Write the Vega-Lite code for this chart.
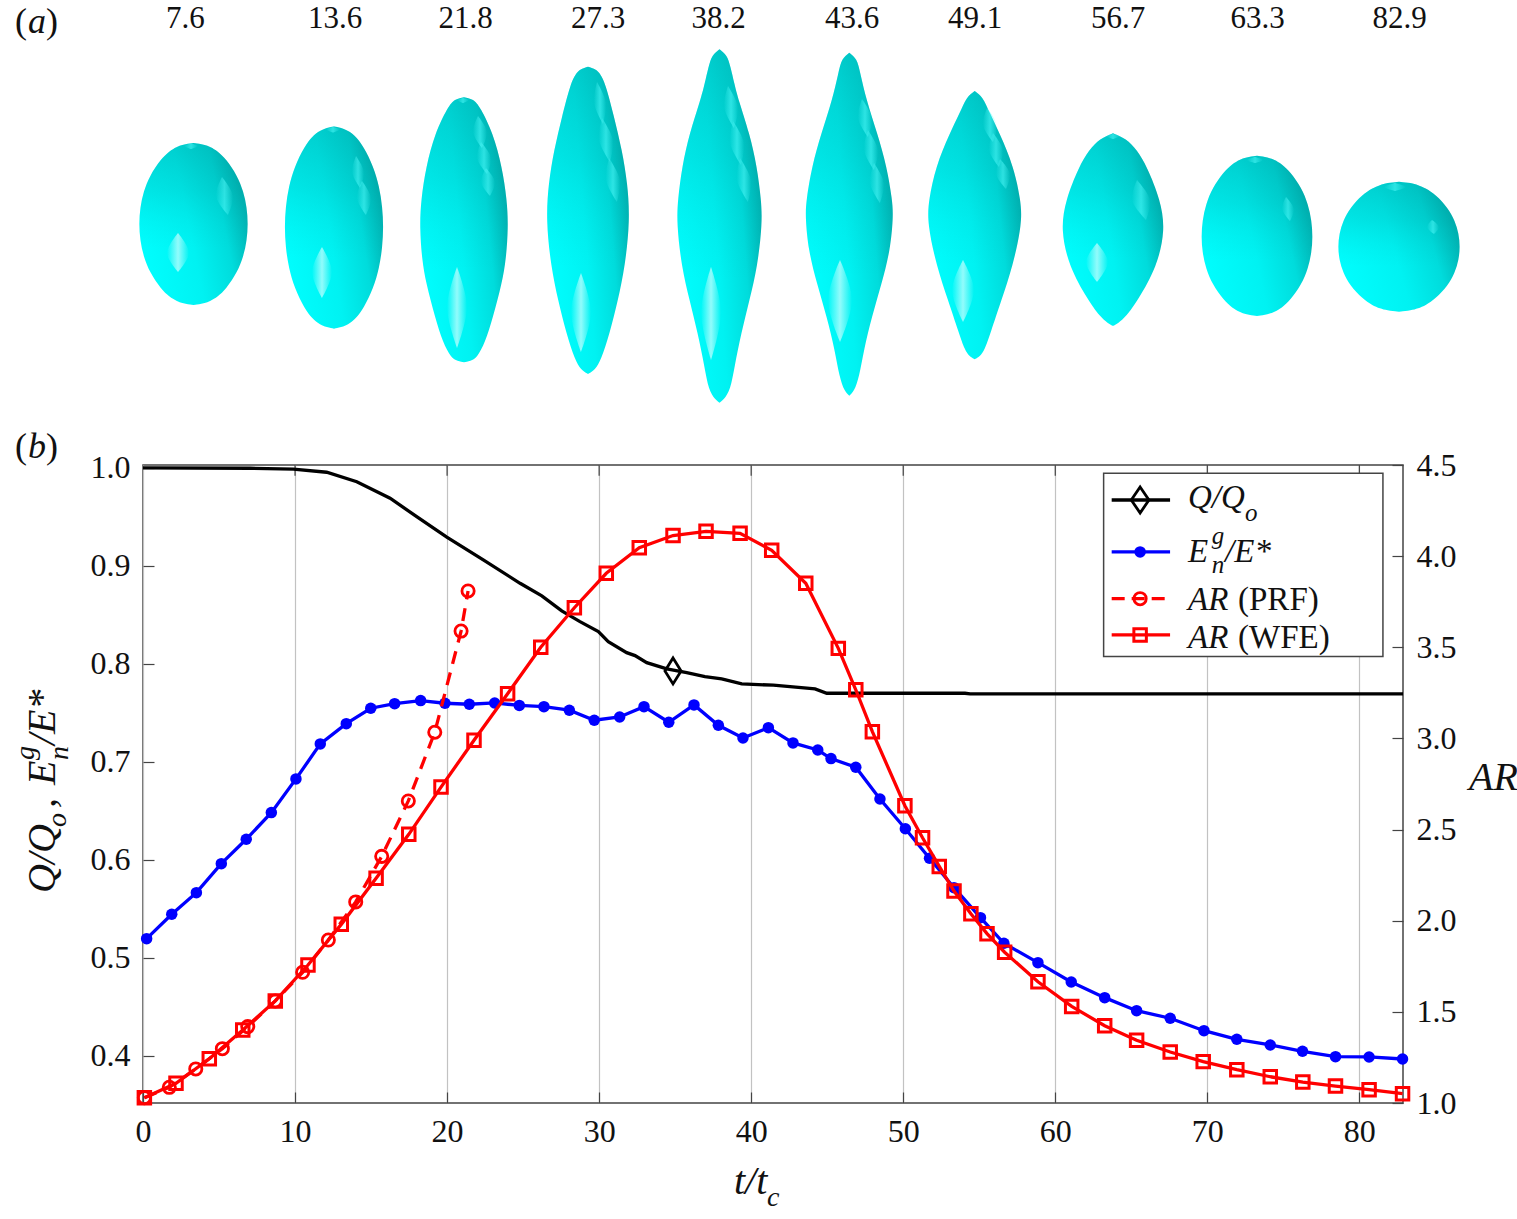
{
  "$schema": "https://vega.github.io/schema/vega-lite/v6.json",
  "description": "Droplet shapes at ten times above, and Q/Qo, En/E* and aspect ratio against t/tc below.",
  "autosize": {"type": "pad"},
  "padding": {"left": 11, "top": 0, "right": 0, "bottom": 0},
  "background": "white",
  "config": {
    "view": {"stroke": null},
    "text": {"font": "Liberation Serif", "color": "#111111"},
    "axis": {"labelFlush": false}
  },
  "datasets": {
    "drops": [
      {"d":"7.6","y":143,"l":193.5,"r":193.5},{"d":"7.6","y":144.6,"l":182.6,"r":204.4},{"d":"7.6","y":147,"l":176.6,"r":210.4},{"d":"7.6","y":151.1,"l":169.5,"r":217.5},{"d":"7.6","y":159.2,"l":160.8,"r":226.2},{"d":"7.6","y":175.4,"l":149.9,"r":237.1},{"d":"7.6","y":191.6,"l":143.5,"r":243.5},{"d":"7.6","y":207.8,"l":140.1,"r":246.9},{"d":"7.6","y":224,"l":139,"r":248},{"d":"7.6","y":240.2,"l":140.1,"r":246.9},{"d":"7.6","y":256.4,"l":143.5,"r":243.5},{"d":"7.6","y":272.6,"l":149.9,"r":237.1},{"d":"7.6","y":288.8,"l":160.8,"r":226.2},{"d":"7.6","y":296.9,"l":169.5,"r":217.5},{"d":"7.6","y":301,"l":176.6,"r":210.4},{"d":"7.6","y":303.4,"l":182.6,"r":204.4},{"d":"7.6","y":305,"l":193.5,"r":193.5},
      {"d":"13.6","y":126.5,"l":334,"r":334},{"d":"13.6","y":128.5,"l":324.1,"r":343.9},{"d":"13.6","y":131.5,"l":318.7,"r":349.3},{"d":"13.6","y":136.5,"l":312.3,"r":355.7},{"d":"13.6","y":146.6,"l":304.4,"r":363.6},{"d":"13.6","y":166.7,"l":294.5,"r":373.5},{"d":"13.6","y":186.8,"l":288.7,"r":379.3},{"d":"13.6","y":206.9,"l":285.6,"r":382.4},{"d":"13.6","y":227,"l":284.6,"r":383.4},{"d":"13.6","y":247.3,"l":285.6,"r":382.4},{"d":"13.6","y":267.7,"l":288.7,"r":379.3},{"d":"13.6","y":288,"l":294.5,"r":373.5},{"d":"13.6","y":308.4,"l":304.4,"r":363.6},{"d":"13.6","y":318.5,"l":312.3,"r":355.7},{"d":"13.6","y":323.6,"l":318.7,"r":349.3},{"d":"13.6","y":326.7,"l":324.1,"r":343.9},{"d":"13.6","y":328.7,"l":334,"r":334},
      {"d":"21.8","y":97.3,"l":464,"r":464},{"d":"21.8","y":99,"l":457,"r":471},{"d":"21.8","y":101,"l":453,"r":475},{"d":"21.8","y":107,"l":448,"r":480},{"d":"21.8","y":133,"l":435,"r":493},{"d":"21.8","y":167,"l":426,"r":502},{"d":"21.8","y":200,"l":421,"r":507},{"d":"21.8","y":227,"l":419.7,"r":508.3},{"d":"21.8","y":260,"l":422,"r":506},{"d":"21.8","y":283,"l":426,"r":502},{"d":"21.8","y":317,"l":435,"r":493},{"d":"21.8","y":343,"l":443,"r":485},{"d":"21.8","y":357,"l":451,"r":477},{"d":"21.8","y":360,"l":455,"r":473},{"d":"21.8","y":362.3,"l":464,"r":464},
      {"d":"27.3","y":66.7,"l":588,"r":588},{"d":"27.3","y":68.5,"l":582,"r":594},{"d":"27.3","y":71.7,"l":577,"r":599},{"d":"27.3","y":83.3,"l":570.5,"r":605.5},{"d":"27.3","y":116.7,"l":562,"r":614},{"d":"27.3","y":150,"l":554,"r":622},{"d":"27.3","y":183.3,"l":548.5,"r":627.5},{"d":"27.3","y":220,"l":546,"r":630},{"d":"27.3","y":266.7,"l":551,"r":625},{"d":"27.3","y":300,"l":558,"r":618},{"d":"27.3","y":333.3,"l":566.3,"r":609.7},{"d":"27.3","y":360,"l":575,"r":601},{"d":"27.3","y":370,"l":581,"r":595},{"d":"27.3","y":374,"l":588,"r":588},
      {"d":"38.2","y":49.3,"l":719.5,"r":719.5},{"d":"38.2","y":55,"l":712,"r":727},{"d":"38.2","y":66.7,"l":708.5,"r":730.5},{"d":"38.2","y":83.3,"l":704.8,"r":734.2},{"d":"38.2","y":100,"l":700.5,"r":738.5},{"d":"38.2","y":133.3,"l":689.5,"r":749.5},{"d":"38.2","y":166.7,"l":682,"r":757},{"d":"38.2","y":200,"l":677.8,"r":761.2},{"d":"38.2","y":223,"l":676.7,"r":762.3},{"d":"38.2","y":266.7,"l":681.5,"r":757.5},{"d":"38.2","y":300,"l":689.5,"r":749.5},{"d":"38.2","y":333.3,"l":697.8,"r":741.2},{"d":"38.2","y":366.7,"l":704.5,"r":734.5},{"d":"38.2","y":390,"l":708.5,"r":730.5},{"d":"38.2","y":400,"l":715.5,"r":723.5},{"d":"38.2","y":402.7,"l":719.5,"r":719.5},
      {"d":"43.6","y":52.7,"l":849.3,"r":849.3},{"d":"43.6","y":58.3,"l":841.8,"r":856.8},{"d":"43.6","y":73.3,"l":838.3,"r":860.3},{"d":"43.6","y":100,"l":832.3,"r":866.3},{"d":"43.6","y":133.3,"l":821.3,"r":877.3},{"d":"43.6","y":166.7,"l":811.8,"r":886.8},{"d":"43.6","y":200,"l":806.3,"r":892.3},{"d":"43.6","y":216.7,"l":805.3,"r":893.3},{"d":"43.6","y":250,"l":808.3,"r":890.3},{"d":"43.6","y":283.3,"l":816.8,"r":881.8},{"d":"43.6","y":316.7,"l":826.8,"r":871.8},{"d":"43.6","y":350,"l":834.8,"r":863.8},{"d":"43.6","y":376.7,"l":839.3,"r":859.3},{"d":"43.6","y":391.7,"l":844.6,"r":854},{"d":"43.6","y":395.7,"l":849.3,"r":849.3},
      {"d":"49.1","y":91,"l":974.7,"r":974.7},{"d":"49.1","y":96.7,"l":966.7,"r":982.7},{"d":"49.1","y":113.3,"l":959.7,"r":989.7},{"d":"49.1","y":133.3,"l":949.7,"r":999.7},{"d":"49.1","y":166.7,"l":935.7,"r":1013.7},{"d":"49.1","y":200,"l":928.7,"r":1020.7},{"d":"49.1","y":223,"l":927.2,"r":1022.2},{"d":"49.1","y":266.7,"l":936.7,"r":1012.7},{"d":"49.1","y":300,"l":948,"r":1001.4},{"d":"49.1","y":333.3,"l":959,"r":990.4},{"d":"49.1","y":350,"l":964.7,"r":984.7},{"d":"49.1","y":356.7,"l":969.7,"r":979.7},{"d":"49.1","y":359.3,"l":974.7,"r":974.7},
      {"d":"56.7","y":133.3,"l":1113,"r":1113},{"d":"56.7","y":138.3,"l":1100,"r":1126},{"d":"56.7","y":150,"l":1089,"r":1137},{"d":"56.7","y":166.7,"l":1079,"r":1147},{"d":"56.7","y":200,"l":1065.5,"r":1160.5},{"d":"56.7","y":230,"l":1060.7,"r":1165.3},{"d":"56.7","y":266.7,"l":1069,"r":1157},{"d":"56.7","y":300,"l":1088,"r":1138},{"d":"56.7","y":316.7,"l":1100,"r":1126},{"d":"56.7","y":323.3,"l":1108,"r":1118},{"d":"56.7","y":326,"l":1113,"r":1113},
      {"d":"63.3","y":155.7,"l":1257,"r":1257},{"d":"63.3","y":157.3,"l":1245.9,"r":1268.1},{"d":"63.3","y":159.7,"l":1239.7,"r":1274.3},{"d":"63.3","y":163.8,"l":1232.5,"r":1281.5},{"d":"63.3","y":172,"l":1223.6,"r":1290.4},{"d":"63.3","y":188.1,"l":1212.4,"r":1301.6},{"d":"63.3","y":204.3,"l":1205.9,"r":1308.1},{"d":"63.3","y":220.5,"l":1202.4,"r":1311.6},{"d":"63.3","y":236.7,"l":1201.3,"r":1312.7},{"d":"63.3","y":252.6,"l":1202.4,"r":1311.6},{"d":"63.3","y":268.4,"l":1205.9,"r":1308.1},{"d":"63.3","y":284.3,"l":1212.4,"r":1301.6},{"d":"63.3","y":300.1,"l":1223.6,"r":1290.4},{"d":"63.3","y":308.1,"l":1232.5,"r":1281.5},{"d":"63.3","y":312,"l":1239.7,"r":1274.3},{"d":"63.3","y":314.4,"l":1245.9,"r":1268.1},{"d":"63.3","y":316,"l":1257,"r":1257},
      {"d":"82.9","y":181.7,"l":1399,"r":1399},{"d":"82.9","y":183,"l":1386.8,"r":1411.2},{"d":"82.9","y":184.9,"l":1380.1,"r":1417.9},{"d":"82.9","y":188.2,"l":1372.2,"r":1425.8},{"d":"82.9","y":194.7,"l":1362.4,"r":1435.6},{"d":"82.9","y":207.7,"l":1350.2,"r":1447.8},{"d":"82.9","y":220.7,"l":1343.1,"r":1454.9},{"d":"82.9","y":233.7,"l":1339.2,"r":1458.8},{"d":"82.9","y":246.7,"l":1338,"r":1460},{"d":"82.9","y":259.7,"l":1339.2,"r":1458.8},{"d":"82.9","y":272.7,"l":1343.1,"r":1454.9},{"d":"82.9","y":285.7,"l":1350.2,"r":1447.8},{"d":"82.9","y":298.7,"l":1362.4,"r":1435.6},{"d":"82.9","y":305.2,"l":1372.2,"r":1425.8},{"d":"82.9","y":308.5,"l":1380.1,"r":1417.9},{"d":"82.9","y":310.4,"l":1386.8,"r":1411.2},{"d":"82.9","y":311.7,"l":1399,"r":1399}
    ],
    "glintLow": [
      {"d":"7.6","y":233,"l":178,"r":178},{"d":"7.6","y":253,"l":167,"r":189},{"d":"7.6","y":272,"l":178,"r":178},
      {"d":"13.6","y":247,"l":322,"r":322},{"d":"13.6","y":272,"l":312,"r":332},{"d":"13.6","y":298,"l":322,"r":322},
      {"d":"21.8","y":267,"l":457,"r":457},{"d":"21.8","y":307,"l":447,"r":467},{"d":"21.8","y":348,"l":457,"r":457},
      {"d":"27.3","y":273,"l":581,"r":581},{"d":"27.3","y":312,"l":571,"r":591},{"d":"27.3","y":352,"l":581,"r":581},
      {"d":"38.2","y":267,"l":711,"r":711},{"d":"38.2","y":312,"l":701,"r":721},{"d":"38.2","y":360,"l":711,"r":711},
      {"d":"43.6","y":260,"l":840,"r":840},{"d":"43.6","y":300,"l":828,"r":852},{"d":"43.6","y":342,"l":840,"r":840},
      {"d":"49.1","y":260,"l":963,"r":963},{"d":"49.1","y":290,"l":952,"r":974},{"d":"49.1","y":322,"l":963,"r":963},
      {"d":"56.7","y":243,"l":1097,"r":1097},{"d":"56.7","y":262,"l":1086,"r":1108},{"d":"56.7","y":282,"l":1097,"r":1097}
    ],
    "glintHigh": [
      {"d":"a1","y":177,"l":222,"r":222},{"d":"a1","y":196,"l":216,"r":233},{"d":"a1","y":215,"l":228,"r":228},
      {"d":"b1","y":156,"l":356,"r":356},{"d":"b1","y":172,"l":352,"r":364},{"d":"b1","y":188,"l":360,"r":360},
      {"d":"b2","y":181,"l":362,"r":362},{"d":"b2","y":198,"l":357,"r":371},{"d":"b2","y":215,"l":366,"r":366},
      {"d":"c1","y":116,"l":478,"r":478},{"d":"c1","y":132,"l":473,"r":487},{"d":"c1","y":148,"l":482,"r":482},
      {"d":"c2","y":142,"l":481,"r":481},{"d":"c2","y":158,"l":477,"r":491},{"d":"c2","y":174,"l":487,"r":487},
      {"d":"c3","y":168,"l":486,"r":486},{"d":"c3","y":182,"l":481,"r":495},{"d":"c3","y":196,"l":490,"r":490},
      {"d":"d1","y":82,"l":597,"r":597},{"d":"d1","y":103,"l":594,"r":606},{"d":"d1","y":124,"l":603,"r":603},
      {"d":"d2","y":118,"l":602,"r":602},{"d":"d2","y":140,"l":599,"r":613},{"d":"d2","y":162,"l":610,"r":610},
      {"d":"d3","y":158,"l":609,"r":609},{"d":"d3","y":180,"l":606,"r":620},{"d":"d3","y":202,"l":617,"r":617},
      {"d":"e1","y":86,"l":728,"r":728},{"d":"e1","y":107,"l":724,"r":738},{"d":"e1","y":128,"l":734,"r":734},
      {"d":"e2","y":121,"l":733,"r":733},{"d":"e2","y":143,"l":730,"r":744},{"d":"e2","y":165,"l":741,"r":741},
      {"d":"e3","y":158,"l":740,"r":740},{"d":"e3","y":180,"l":737,"r":751},{"d":"e3","y":202,"l":748,"r":748},
      {"d":"f1","y":99,"l":862,"r":862},{"d":"f1","y":118,"l":858,"r":872},{"d":"f1","y":137,"l":868,"r":868},
      {"d":"f2","y":130,"l":868,"r":868},{"d":"f2","y":150,"l":864,"r":878},{"d":"f2","y":170,"l":874,"r":874},
      {"d":"f3","y":163,"l":874,"r":874},{"d":"f3","y":183,"l":870,"r":884},{"d":"f3","y":203,"l":880,"r":880},
      {"d":"g1","y":108,"l":987,"r":987},{"d":"g1","y":125,"l":983,"r":997},{"d":"g1","y":142,"l":993,"r":993},
      {"d":"g2","y":133,"l":993,"r":993},{"d":"g2","y":150,"l":989,"r":1003},{"d":"g2","y":167,"l":999,"r":999},
      {"d":"g3","y":159,"l":1000,"r":1000},{"d":"g3","y":174,"l":996,"r":1010},{"d":"g3","y":189,"l":1006,"r":1006},
      {"d":"h1","y":180,"l":1137,"r":1137},{"d":"h1","y":200,"l":1132,"r":1150},{"d":"h1","y":220,"l":1146,"r":1146},
      {"d":"i1","y":197,"l":1286,"r":1286},{"d":"i1","y":209,"l":1282,"r":1294},{"d":"i1","y":221,"l":1290,"r":1290},
      {"d":"j1","y":220,"l":1432,"r":1432},{"d":"j1","y":227,"l":1427,"r":1439},{"d":"j1","y":234,"l":1434,"r":1434},
      {"d":"k1","y":143.5,"l":191,"r":191},{"d":"k1","y":146,"l":184,"r":198},{"d":"k1","y":149,"l":191,"r":191},
      {"d":"k2","y":127,"l":333,"r":333},{"d":"k2","y":129.5,"l":326,"r":340},{"d":"k2","y":132.5,"l":333,"r":333},
      {"d":"k3","y":98,"l":463,"r":463},{"d":"k3","y":100,"l":457,"r":469},{"d":"k3","y":103,"l":463,"r":463},
      {"d":"k8","y":134,"l":1113,"r":1113},{"d":"k8","y":136,"l":1106,"r":1120},{"d":"k8","y":139,"l":1113,"r":1113},
      {"d":"k9","y":157,"l":1255,"r":1255},{"d":"k9","y":160,"l":1247,"r":1263},{"d":"k9","y":163,"l":1255,"r":1255},
      {"d":"k10","y":183,"l":1395,"r":1395},{"d":"k10","y":187,"l":1384,"r":1406},{"d":"k10","y":191,"l":1395,"r":1395}
    ],
    "energy": [
      {"t":0.24,"v":0.5197},{"t":1.89,"v":0.5446},{"t":3.51,"v":0.5666},{"t":5.15,"v":0.5962},{"t":6.79,"v":0.6211},{"t":8.44,"v":0.6483},{"t":10.06,"v":0.6827},{"t":11.66,"v":0.7184},{"t":13.37,"v":0.7391},{"t":14.98,"v":0.7548},{"t":16.55,"v":0.7595},{"t":18.26,"v":0.7626},{"t":19.86,"v":0.7599},{"t":21.46,"v":0.7589},{"t":23.13,"v":0.7602},{"t":24.75,"v":0.7577},{"t":26.37,"v":0.7564},{"t":28.04,"v":0.7528},{"t":29.68,"v":0.7426},{"t":31.35,"v":0.7459},{"t":32.95,"v":0.7564},{"t":34.58,"v":0.7405},{"t":36.24,"v":0.7582},{"t":37.84,"v":0.7374},{"t":39.46,"v":0.7245},{"t":41.13,"v":0.735},{"t":42.75,"v":0.7194},{"t":44.38,"v":0.7122},{"t":45.25,"v":0.7034},{"t":46.88,"v":0.6946},{"t":48.47,"v":0.6622},{"t":50.14,"v":0.6319},{"t":51.73,"v":0.6017},{"t":53.34,"v":0.5717},{"t":55.08,"v":0.5411},{"t":56.62,"v":0.515},{"t":58.86,"v":0.4952},{"t":61.05,"v":0.4755},{"t":63.25,"v":0.4595},{"t":65.35,"v":0.4462},{"t":67.56,"v":0.4385},{"t":69.78,"v":0.4258},{"t":71.94,"v":0.417},{"t":74.14,"v":0.4112},{"t":76.26,"v":0.4048},{"t":78.43,"v":0.3993},{"t":80.64,"v":0.399},{"t":82.84,"v":0.3969}
    ],
    "charge": [
      {"t":0,"v":1.0},{"t":7.04,"v":0.9997},{"t":9.89,"v":0.9987},{"t":12.08,"v":0.9956},{"t":14.06,"v":0.986},{"t":16.25,"v":0.9691},{"t":18.0,"v":0.9503},{"t":19.98,"v":0.9293},{"t":22.38,"v":0.9061},{"t":24.8,"v":0.8823},{"t":26.23,"v":0.8694},{"t":27.54,"v":0.8541},{"t":28.74,"v":0.8432},{"t":29.95,"v":0.833},{"t":30.6,"v":0.8228},{"t":31.81,"v":0.8115},{"t":32.36,"v":0.8085},{"t":33.13,"v":0.8013},{"t":34.45,"v":0.7949},{"t":35.76,"v":0.7911},{"t":36.96,"v":0.787},{"t":38.06,"v":0.7847},{"t":39.38,"v":0.7796},{"t":41.46,"v":0.7783},{"t":44.2,"v":0.7745},{"t":44.97,"v":0.7701},{"t":49.79,"v":0.7701},{"t":54.06,"v":0.7701},{"t":54.4,"v":0.7694},{"t":82.87,"v":0.7694}
    ],
    "wfe": [
      {"t":0.09,"ar":1.029},{"t":2.17,"ar":1.108},{"t":4.36,"ar":1.243},{"t":6.56,"ar":1.4},{"t":8.7,"ar":1.56},{"t":10.85,"ar":1.757},{"t":13.04,"ar":1.98},{"t":15.33,"ar":2.233},{"t":17.48,"ar":2.474},{"t":19.6,"ar":2.733},{"t":21.77,"ar":2.99},{"t":23.98,"ar":3.245},{"t":26.16,"ar":3.5},{"t":28.37,"ar":3.717},{"t":30.47,"ar":3.906},{"t":32.64,"ar":4.046},{"t":34.86,"ar":4.113},{"t":37.03,"ar":4.136},{"t":39.27,"ar":4.125},{"t":41.35,"ar":4.032},{"t":43.59,"ar":3.851},{"t":45.73,"ar":3.494},{"t":46.88,"ar":3.267},{"t":47.97,"ar":3.037},{"t":50.11,"ar":2.631},{"t":51.27,"ar":2.455},{"t":52.37,"ar":2.298},{"t":53.34,"ar":2.163},{"t":54.45,"ar":2.038},{"t":55.51,"ar":1.929},{"t":56.67,"ar":1.827},{"t":58.86,"ar":1.665},{"t":61.08,"ar":1.53},{"t":63.25,"ar":1.424},{"t":65.35,"ar":1.344},{"t":67.56,"ar":1.28},{"t":69.73,"ar":1.227},{"t":71.94,"ar":1.183},{"t":74.14,"ar":1.144},{"t":76.28,"ar":1.115},{"t":78.43,"ar":1.093},{"t":80.64,"ar":1.073},{"t":82.84,"ar":1.051}
    ],
    "prf": [
      {"t":0.09,"ar":1.029},{"t":1.73,"ar":1.086},{"t":3.47,"ar":1.187},{"t":5.22,"ar":1.298},{"t":6.89,"ar":1.419},{"t":8.7,"ar":1.56},{"t":10.5,"ar":1.717},{"t":12.19,"ar":1.894},{"t":13.99,"ar":2.103},{"t":15.7,"ar":2.353},{"t":17.45,"ar":2.657},{"t":19.19,"ar":3.034},{"t":20.92,"ar":3.589},{"t":21.38,"ar":3.809}
    ]
  },
  "spacing": -18,
  "vconcat": [
    {
      "width": 1260,
      "height": 465,
      "encoding": {
        "x": {"field": "u", "type": "quantitative", "scale": {"domain": [143, 1403]}, "axis": null},
        "y": {"field": "y", "type": "quantitative", "scale": {"domain": [465, 0]}, "axis": null}
      },
      "layer": [
        {
          "data": {"name": "drops"},
          "mark": {
            "type": "area", "orient": "horizontal", "interpolate": "basis",
            "color": {"gradient": "linear", "x1": 0, "y1": 0.8, "x2": 1, "y2": 0.5, "stops": [
              {"offset": 0, "color": "#00ffff"},
              {"offset": 0.5, "color": "#00f2f2"},
              {"offset": 0.8, "color": "#00dcdc"},
              {"offset": 1, "color": "#00b4b4"}
            ]}
          },
          "encoding": {
            "x": {"field": "l"},
            "x2": {"field": "r"},
            "detail": {"field": "d"}
          }
        },
        {
          "data": {"name": "drops"},
          "mark": {
            "type": "area", "orient": "horizontal", "interpolate": "basis",
            "color": {"gradient": "linear", "x1": 0.5, "y1": 0, "x2": 0.5, "y2": 1, "stops": [
              {"offset": 0, "color": "rgba(0,140,140,0.35)"},
              {"offset": 0.3, "color": "rgba(0,150,150,0.2)"},
              {"offset": 0.5, "color": "rgba(0,170,170,0.08)"},
              {"offset": 0.65, "color": "rgba(0,180,180,0)"},
              {"offset": 1, "color": "rgba(0,180,180,0)"}
            ]}
          },
          "encoding": {
            "x": {"field": "l"},
            "x2": {"field": "r"},
            "detail": {"field": "d"}
          }
        },
        {
          "data": {"name": "glintHigh"},
          "mark": {
            "type": "area", "orient": "horizontal", "interpolate": "catmull-rom",
            "color": {"gradient": "linear", "x1": 0, "y1": 0.5, "x2": 1, "y2": 0.5, "stops": [
              {"offset": 0, "color": "rgba(90,255,255,0)"},
              {"offset": 0.5, "color": "rgba(90,255,255,0.5)"},
              {"offset": 1, "color": "rgba(90,255,255,0)"}
            ]}
          },
          "encoding": {
            "x": {"field": "l"},
            "x2": {"field": "r"},
            "detail": {"field": "d"}
          }
        },
        {
          "data": {"name": "glintLow"},
          "mark": {
            "type": "area", "orient": "horizontal", "interpolate": "catmull-rom",
            "color": {"gradient": "linear", "x1": 0, "y1": 0.5, "x2": 1, "y2": 0.5, "stops": [
              {"offset": 0, "color": "rgba(225,255,255,0)"},
              {"offset": 0.5, "color": "rgba(225,255,255,0.65)"},
              {"offset": 1, "color": "rgba(225,255,255,0)"}
            ]}
          },
          "encoding": {
            "x": {"field": "l"},
            "x2": {"field": "r"},
            "detail": {"field": "d"}
          }
        },
        {
          "data": {"values": [
            {"label":"7.6","u":185.3,"y":27.7},{"label":"13.6","u":335,"y":27.7},{"label":"21.8","u":465.7,"y":27.7},{"label":"27.3","u":598,"y":27.7},{"label":"38.2","u":718.7,"y":27.7},{"label":"43.6","u":852,"y":27.7},{"label":"49.1","u":975,"y":27.7},{"label":"56.7","u":1118,"y":27.7},{"label":"63.3","u":1257.5,"y":27.7},{"label":"82.9","u":1399.7,"y":27.7}
          ]},
          "mark": {"type": "text", "fontSize": 31, "align": "center", "baseline": "alphabetic"},
          "encoding": {"text": {"field": "label"}}
        },
        {
          "data": {"values": [
            {"label":"(","u":15,"y":33},{"label":")","u":46,"y":33},{"label":"(","u":15,"y":458},{"label":")","u":46,"y":458}
          ]},
          "mark": {"type": "text", "fontSize": 36, "align": "left", "baseline": "alphabetic"},
          "encoding": {"text": {"field": "label"}}
        },
        {
          "data": {"values": [{"label":"a","u":28,"y":33},{"label":"b","u":28,"y":458}]},
          "mark": {"type": "text", "fontSize": 36, "fontStyle": "italic", "align": "left", "baseline": "alphabetic"},
          "encoding": {"text": {"field": "label"}}
        }
      ]
    },
    {
      "width": 1260,
      "height": 638,
      "view": {"stroke": "#444444", "strokeWidth": 1.5},
      "encoding": {
        "x": {
          "field": "t", "type": "quantitative", "title": null,
          "scale": {"domain": [0, 82.87]},
          "axis": {"values": [0,10,20,30,40,50,60,70,80], "format": "d", "grid": true, "gridColor": "#c2c2c2", "gridWidth": 1.2, "domain": false, "tickColor": "#444444", "tickWidth": 1.2, "tickSize": -11, "labelFont": "Liberation Serif", "labelFontSize": 32, "labelColor": "#111111", "labelPadding": 24}
        }
      },
      "layer": [
        {
          "encoding": {
            "y": {
              "field": "v", "type": "quantitative", "title": null,
              "scale": {"domain": [0.352, 1.003]},
              "axis": {"values": [0.4,0.5,0.6,0.7,0.8,0.9,1.0], "format": ".1f", "grid": false, "domain": false, "tickColor": "#444444", "tickWidth": 1.2, "tickSize": -11, "labelFont": "Liberation Serif", "labelFontSize": 32, "labelColor": "#111111", "labelPadding": 24}
            }
          },
          "layer": [
            {
              "data": {"values": [
                {"t":10,"v":1.003,"v2":0.992},{"t":20,"v":1.003,"v2":0.992},{"t":30,"v":1.003,"v2":0.992},{"t":40,"v":1.003,"v2":0.992},{"t":50,"v":1.003,"v2":0.992},{"t":60,"v":1.003,"v2":0.992},{"t":70,"v":1.003,"v2":0.992},{"t":80,"v":1.003,"v2":0.992}
              ]},
              "mark": {"type": "rule", "color": "#444444", "strokeWidth": 1.2},
              "encoding": {"y2": {"field": "v2"}}
            },
            {
              "data": {"name": "charge"},
              "mark": {"type": "line", "color": "#000000", "strokeWidth": 3.3}
            },
            {
              "data": {"values": [{"t":34.86,"v":0.7929}]},
              "mark": {"type": "point", "shape": "M0,-1L0.62,0L0,1L-0.62,0Z", "size": 676, "filled": false, "stroke": "#000000", "strokeWidth": 2.8, "opacity": 1}
            },
            {
              "data": {"name": "energy"},
              "mark": {"type": "line", "color": "#0000ff", "strokeWidth": 3.3}
            },
            {
              "data": {"name": "energy"},
              "mark": {"type": "circle", "color": "#0000ff", "size": 132, "opacity": 1}
            },
            {
              "data": {"values": [{"t":63.18,"t2":81.55,"v":0.9946,"v2":0.8075}]},
              "mark": {"type": "rect", "fill": "#ffffff", "stroke": "#444444", "strokeWidth": 1.5},
              "encoding": {"x2": {"field": "t2"}, "y2": {"field": "v2"}}
            },
            {
              "data": {"values": [{"t":63.71,"t2":67.55,"v":0.9673}]},
              "mark": {"type": "rule", "color": "#000000", "strokeWidth": 3.3},
              "encoding": {"x2": {"field": "t2"}}
            },
            {
              "data": {"values": [{"t":63.71,"t2":67.55,"v":0.9143}]},
              "mark": {"type": "rule", "color": "#0000ff", "strokeWidth": 3.3},
              "encoding": {"x2": {"field": "t2"}}
            },
            {
              "data": {"values": [{"t":63.71,"t2":67.55,"v":0.8666}]},
              "mark": {"type": "rule", "color": "#ff0000", "strokeWidth": 3.3, "strokeDash": [13, 7]},
              "encoding": {"x2": {"field": "t2"}}
            },
            {
              "data": {"values": [{"t":63.71,"t2":67.55,"v":0.8296}]},
              "mark": {"type": "rule", "color": "#ff0000", "strokeWidth": 3.3},
              "encoding": {"x2": {"field": "t2"}}
            },
            {
              "data": {"values": [{"t":65.58,"v":0.9673}]},
              "mark": {"type": "point", "shape": "M0,-1L0.68,0L0,1L-0.68,0Z", "size": 676, "filled": false, "stroke": "#000000", "strokeWidth": 2.8, "opacity": 1}
            },
            {
              "data": {"values": [{"t":65.58,"v":0.9143}]},
              "mark": {"type": "circle", "color": "#0000ff", "size": 132, "opacity": 1}
            },
            {
              "data": {"values": [{"t":65.58,"v":0.8666}]},
              "mark": {"type": "point", "shape": "circle", "size": 150, "filled": false, "stroke": "#ff0000", "strokeWidth": 2.8, "opacity": 1}
            },
            {
              "data": {"values": [{"t":65.58,"v":0.8296}]},
              "mark": {"type": "point", "shape": "square", "size": 156, "filled": false, "stroke": "#ff0000", "strokeWidth": 3, "opacity": 1}
            },
            {
              "data": {"values": [
                {"label":"Q/Q","t":68.73,"v":0.9592},{"label":"E","t":68.73,"v":0.9044},{"label":"/E*","t":71.17,"v":0.9044},{"label":"AR","t":68.73,"v":0.8551},{"label":"AR","t":68.73,"v":0.8163}
              ]},
              "mark": {"type": "text", "fontSize": 33, "fontStyle": "italic", "align": "left", "baseline": "alphabetic"},
              "encoding": {"text": {"field": "label"}}
            },
            {
              "data": {"values": [
                {"label":"o","t":72.48,"v":0.9462},{"label":"g","t":70.29,"v":0.9224},{"label":"n","t":70.29,"v":0.8926}
              ]},
              "mark": {"type": "text", "fontSize": 25, "fontStyle": "italic", "align": "left", "baseline": "alphabetic"},
              "encoding": {"text": {"field": "label"}}
            },
            {
              "data": {"values": [{"label":"(PRF)","t":72.02,"v":0.8551},{"label":"(WFE)","t":72.02,"v":0.8163}]},
              "mark": {"type": "text", "fontSize": 33, "align": "left", "baseline": "alphabetic"},
              "encoding": {"text": {"field": "label"}}
            },
            {
              "data": {"values": [{"label":"t/t","t":38.87,"v":0.2592},{"label":"AR","t":87.21,"v":0.6714}]},
              "mark": {"type": "text", "fontSize": 40, "fontStyle": "italic", "align": "left", "baseline": "alphabetic"},
              "encoding": {"text": {"field": "label"}}
            },
            {
              "data": {"values": [{"label":"c","t":41.04,"v":0.2469}]},
              "mark": {"type": "text", "fontSize": 28, "fontStyle": "italic", "align": "left", "baseline": "alphabetic"},
              "encoding": {"text": {"field": "label"}}
            },
            {
              "data": {"values": [
                {"label":"Q/Q","t":-5.79,"v":0.5663},{"label":",","t":-5.79,"v":0.6531},{"label":"E","t":-5.79,"v":0.6765},{"label":"/E*","t":-5.79,"v":0.7173}
              ]},
              "mark": {"type": "text", "fontSize": 40, "fontStyle": "italic", "angle": 270, "align": "left", "baseline": "alphabetic"},
              "encoding": {"text": {"field": "label"}}
            },
            {
              "data": {"values": [
                {"label":"o","t":-5.06,"v":0.6337},{"label":"n","t":-4.93,"v":0.702},{"label":"g","t":-7.17,"v":0.702}
              ]},
              "mark": {"type": "text", "fontSize": 28, "fontStyle": "italic", "angle": 270, "align": "left", "baseline": "alphabetic"},
              "encoding": {"text": {"field": "label"}}
            }
          ]
        },
        {
          "encoding": {
            "y": {
              "field": "ar", "type": "quantitative", "title": null,
              "scale": {"domain": [1.0, 4.5]},
              "axis": {"orient": "right", "values": [1.0,1.5,2.0,2.5,3.0,3.5,4.0,4.5], "format": ".1f", "grid": false, "domain": false, "tickColor": "#444444", "tickWidth": 1.2, "tickSize": -11, "labelFont": "Liberation Serif", "labelFontSize": 32, "labelColor": "#111111", "labelPadding": 24}
            }
          },
          "layer": [
            {
              "data": {"name": "prf"},
              "mark": {"type": "line", "color": "#ff0000", "strokeWidth": 3.3, "strokeDash": [13, 9]}
            },
            {
              "data": {"name": "prf"},
              "mark": {"type": "point", "shape": "circle", "size": 150, "filled": false, "stroke": "#ff0000", "strokeWidth": 2.8, "opacity": 1}
            },
            {
              "data": {"name": "wfe"},
              "mark": {"type": "line", "color": "#ff0000", "strokeWidth": 3.3}
            },
            {
              "data": {"name": "wfe"},
              "mark": {"type": "point", "shape": "square", "size": 156, "filled": false, "stroke": "#ff0000", "strokeWidth": 3, "opacity": 1}
            }
          ]
        }
      ],
      "resolve": {"scale": {"y": "independent"}}
    }
  ]
}
